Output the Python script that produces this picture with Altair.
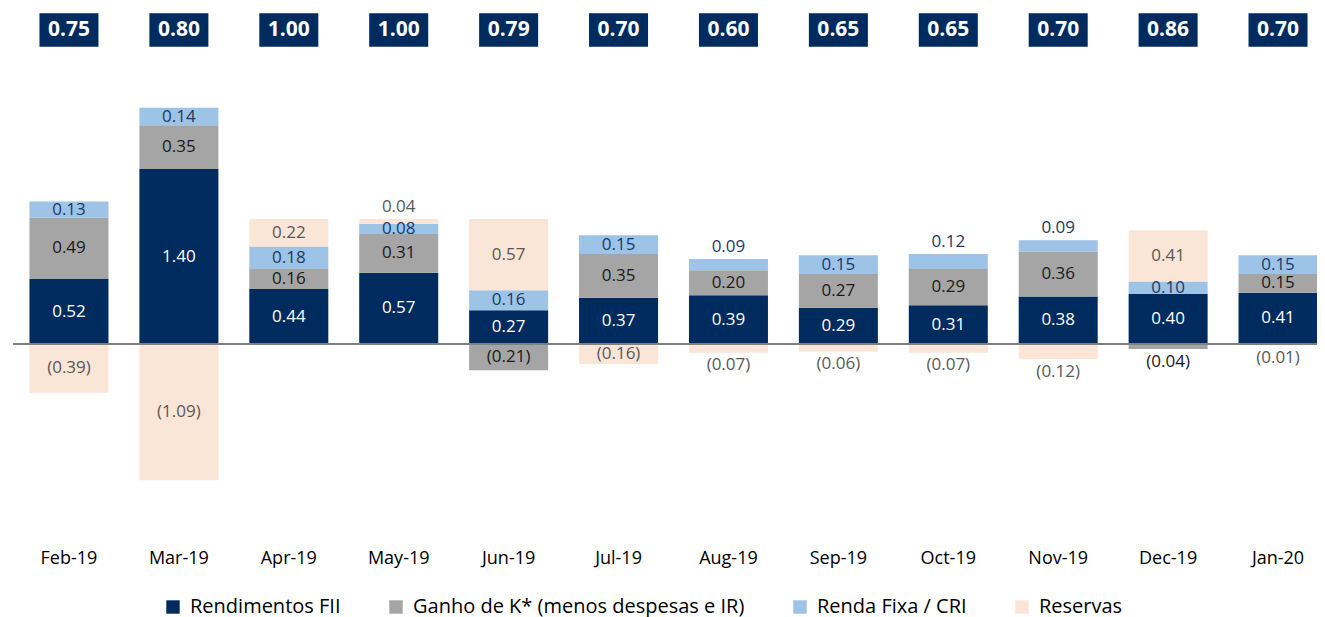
import altair as alt
import pandas as pd

months = ["Feb-19", "Mar-19", "Apr-19", "May-19", "Jun-19", "Jul-19",
          "Aug-19", "Sep-19", "Oct-19", "Nov-19", "Dec-19", "Jan-20"]
rendimentos_fii = [0.52, 1.40, 0.44, 0.57, 0.27, 0.37, 0.39, 0.29, 0.31, 0.38, 0.40, 0.41]
ganho_k = [0.49, 0.35, 0.16, 0.31, -0.21, 0.35, 0.20, 0.27, 0.29, 0.36, -0.04, 0.15]
renda_fixa = [0.13, 0.14, 0.18, 0.08, 0.16, 0.15, 0.09, 0.15, 0.12, 0.09, 0.10, 0.15]
reservas = [-0.39, -1.09, 0.22, 0.04, 0.57, -0.16, -0.07, -0.06, -0.07, -0.12, 0.41, -0.01]
totals = [0.75, 0.80, 1.00, 1.00, 0.79, 0.70, 0.60, 0.65, 0.65, 0.70, 0.86, 0.70]
series_names = ["Rendimentos FII", "Ganho de K* (menos despesas e IR)",
                "Renda Fixa / CRI", "Reservas"]

bar_colors = ["#002B5E", "#A5A5A5", "#9DC3E6", "#FBE5D6"]
text_colors = ["#FFFFFF", "#1A1A1A", "#1F3864", "#595959"]
FONT = "Open Sans"

series_values = [rendimentos_fii, ganho_k, renda_fixa, reservas]

rows = []
for i, m in enumerate(months):
    pos, neg = 0.0, 0.0
    segs = []
    for k, name in enumerate(series_names):
        v = series_values[k][i]
        if v >= 0:
            y0, y1 = pos, pos + v
            pos = y1
        else:
            y0, y1 = neg, neg + v
            neg = y1
        segs.append((k, name, v, y0, y1))
    for k, name, v, y0, y1 in segs:
        ly = (y0 + y1) / 2
        if v > 0 and v < 0.13 and abs(y1 - pos) < 1e-9:
            ly = y1 + 0.095
        elif v < 0 and abs(v) < 0.15:
            ly = y1 - 0.1
        label = f"{v:.2f}" if v >= 0 else f"({abs(v):.2f})"
        rows.append({"month": m, "series": name, "order": k, "value": v,
                     "y0": y0, "y1": y1, "label": label, "label_y": ly})
df = pd.DataFrame(rows)
tot_df = pd.DataFrame({"month": months, "total": totals})
zero_df = pd.DataFrame({"zero": [0.0]})

y_scale = alt.Scale(domain=[-1.64, 2.688], nice=False, zero=False)
x_scale = alt.Scale(range=[21.4, 1309.6], paddingInner=0.28, paddingOuter=0)
x_enc = alt.X("month:N", sort=months, scale=x_scale,
              axis=alt.Axis(title=None, domain=False, ticks=False, labelAngle=0,
                            labelFont=FONT, labelFontSize=18, labelColor="#000000",
                            labelPadding=0))

bars = alt.Chart(df).mark_bar(size=79).encode(
    x=x_enc,
    y=alt.Y("y0:Q", scale=y_scale, axis=None),
    y2="y1:Q",
    color=alt.Color("series:N", sort=series_names,
                    scale=alt.Scale(domain=series_names, range=bar_colors),
                    legend=alt.Legend(title=None, orient="none", legendX=155, legendY=589,
                                      direction="horizontal", symbolType="square",
                                      symbolSize=180, symbolStrokeWidth=0,
                                      labelFont=FONT, labelFontSize=20,
                                      labelColor="#000000", columnPadding=45,
                                      labelOffset=7, padding=0, labelLimit=600)),
)

rule = alt.Chart(zero_df).mark_rule(color="#808080", strokeWidth=2).encode(
    y=alt.Y("zero:Q", scale=y_scale, axis=None),
    x=alt.value(5), x2=alt.value(1309),
)

labels = alt.Chart(df).mark_text(font=FONT, fontSize=17, baseline="middle").encode(
    x=x_enc,
    y=alt.Y("label_y:Q", scale=y_scale, axis=None),
    text="label:N",
    color=alt.Color("series:N", scale=alt.Scale(domain=series_names, range=text_colors),
                    legend=None),
)

boxes = alt.Chart(tot_df).mark_bar(size=59, color="#002B5E").encode(
    x=x_enc,
    y=alt.value(5.3),
    y2=alt.value(38.7),
)

box_text = alt.Chart(tot_df).mark_text(font=FONT, fontSize=21, fontWeight="bold",
                                       color="#FFFFFF", baseline="middle").encode(
    x=x_enc,
    y=alt.value(22),
    text=alt.Text("total:Q", format=".2f"),
)

chart = alt.layer(bars, rule, labels, boxes, box_text).resolve_scale(
    color="independent"
).properties(
    width=1309, height=541,
    autosize=alt.AutoSizeParams(type="none"),
    padding={"left": 0, "top": 0, "right": 0, "bottom": 70},
).configure_view(stroke=None)

chart.save("out.html", embed_options={"renderer": "svg", "actions": False})
